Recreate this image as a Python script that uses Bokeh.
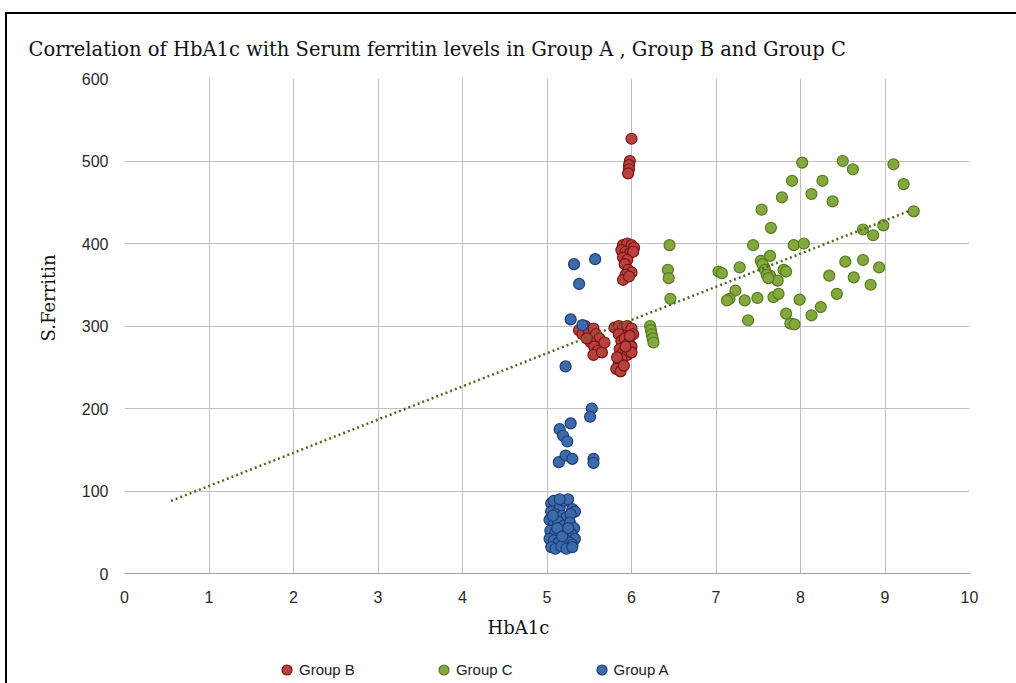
from bokeh.plotting import figure
from bokeh.models import Legend, LegendItem, Title, Range1d, FixedTicker
from bokeh.layouts import column
from bokeh.embed import file_html
from bokeh.resources import INLINE

title_text = "Correlation of HbA1c with Serum ferritin levels in Group A , Group B and Group C"
x_label = "HbA1c"
y_label = "S.Ferritin"
x_ticks = [0, 1, 2, 3, 4, 5, 6, 7, 8, 9, 10]
y_ticks = [0, 100, 200, 300, 400, 500, 600]
series_names = ["Group B", "Group C", "Group A"]

# Group B (red)
groupB_x = [6.00, 5.98, 5.97, 5.97, 5.96,
            5.90, 5.95, 6.00, 6.03, 5.88, 5.93, 5.98, 6.02, 5.90, 5.95, 5.92, 5.96, 6.00, 5.93, 5.90, 5.97,
            5.38, 5.42, 5.45, 5.50, 5.55, 5.58, 5.62, 5.52, 5.56, 5.60, 5.55, 5.65, 5.68, 5.47,
            5.80, 5.85, 5.90, 5.95, 6.00, 6.02, 5.85, 5.88, 5.92, 5.97, 6.00, 5.86, 5.90, 5.95,
            6.00, 5.88, 5.85, 5.82, 5.87, 5.93, 5.98, 5.83, 5.91]
groupB_y = [527, 500, 495, 490, 485,
            398, 400, 398, 395, 392, 390, 388, 390, 383, 380, 375, 368, 365, 362, 356, 360,
            295, 290, 300, 292, 297, 290, 285, 280, 275, 270, 265, 268, 280, 285,
            298, 300, 298, 300, 297, 290, 290, 282, 285, 280, 275, 272, 268, 265,
            268, 260, 255, 248, 245, 275, 288, 262, 252]

# Group C (green)
groupC_x = [6.45, 6.43, 6.44, 6.46, 6.22, 6.23, 6.24, 6.25, 6.26,
            8.02, 8.50, 8.62, 9.10, 7.90, 8.26, 8.13, 7.78, 9.22, 8.38, 7.54, 9.34,
            7.65, 8.74, 8.86, 8.98, 7.44, 7.92, 8.04, 7.53, 7.64, 7.57, 8.53, 8.74,
            8.93, 7.03, 7.07, 7.28, 7.80, 7.83, 7.64, 7.73, 8.34, 8.63, 7.23, 7.16,
            7.13, 7.34, 7.49, 7.68, 7.74, 7.99, 8.43, 8.83, 8.24, 8.13, 7.38, 7.83,
            7.88, 7.93, 7.55, 7.58, 7.60, 7.62]
groupC_y = [398, 368, 358, 333, 300, 295, 290, 285, 280,
            498, 500, 490, 496, 476, 476, 460, 456, 472, 451, 441, 439,
            419, 417, 410, 422, 398, 398, 400, 379, 385, 371, 378, 380,
            371, 366, 364, 371, 368, 366, 361, 355, 361, 359, 343, 333,
            331, 331, 334, 335, 339, 332, 339, 350, 323, 313, 307, 315,
            303, 302, 375, 368, 362, 358]

# Group A (blue)
groupA_x = [5.32, 5.57, 5.38, 5.28, 5.42, 5.22, 5.53, 5.51, 5.28, 5.15, 5.19, 5.24,
            5.14, 5.22, 5.30, 5.55, 5.55,
            5.05, 5.08, 5.15, 5.20, 5.25, 5.30, 5.33, 5.05, 5.10, 5.18, 5.23, 5.28,
            5.03, 5.08, 5.13, 5.20, 5.27, 5.32, 5.04, 5.10, 5.16, 5.22, 5.29, 5.33,
            5.03, 5.08, 5.14, 5.20, 5.26, 5.30, 5.05, 5.10, 5.17, 5.23, 5.30, 5.12,
            5.18, 5.25, 5.07, 5.15]
groupA_y = [375, 381, 351, 308, 301, 251, 200, 190, 182, 175, 167, 160,
            135, 143, 139, 139, 134,
            85, 88, 80, 88, 90, 78, 75, 75, 72, 70, 68, 72,
            65, 60, 63, 58, 62, 55, 52, 50, 48, 52, 48, 42,
            42, 40, 38, 42, 38, 35, 32, 30, 33, 30, 32, 55,
            45, 55, 70, 90]

# linear trendline endpoints (as drawn in the chart)
trend_x = [0.55, 9.30]
trend_y = [88, 440]

serif = "DejaVu Serif"
sans = "Liberation Sans"
grid_col = "#c0c0c0"
series_x = [groupB_x, groupC_x, groupA_x]
series_y = [groupB_y, groupC_y, groupA_y]
styles = [dict(fill_color="#b8413e", line_color="#7a1414"),
          dict(fill_color="#83a83c", line_color="#587a22"),
          dict(fill_color="#3d6aab", line_color="#1c3f74")]

p = figure(width=1009, height=639, output_backend="svg", toolbar_location=None,
           x_range=Range1d(0, 10), y_range=Range1d(0, 600),
           min_border_left=117, min_border_right=47, min_border_top=64, min_border_bottom=80)
p.outline_line_color = None
p.background_fill_color = "white"
p.border_fill_color = "white"

p.add_layout(Title(text=title_text, text_font=serif, text_font_size="19.5px",
                   text_font_style="normal", text_color="#111111", align="left",
                   offset=-96, standoff=36), "above")

p.xaxis.ticker = FixedTicker(ticks=x_ticks)
p.yaxis.ticker = FixedTicker(ticks=y_ticks)
p.xgrid.ticker = FixedTicker(ticks=x_ticks)
p.ygrid.ticker = FixedTicker(ticks=y_ticks)
p.xgrid.grid_line_color = grid_col
p.ygrid.grid_line_color = grid_col
p.xgrid.grid_line_width = 1
p.ygrid.grid_line_width = 1

for ax in (p.xaxis, p.yaxis):
    ax.major_tick_line_color = None
    ax.minor_tick_line_color = None
    ax.major_tick_out = 0
    ax.major_tick_in = 0
    ax.minor_tick_out = 0
    ax.minor_tick_in = 0
    ax.major_label_text_font = sans
    ax.major_label_text_font_size = "16px"
    ax.major_label_text_color = "#2a2a2a"
p.xaxis.axis_line_color = "#a0a0a0"
p.yaxis.axis_line_color = None
p.xaxis.major_label_standoff = 17
p.yaxis.major_label_standoff = 16

# axis titles placed like the original (offset from the frame centre)
p.add_layout(Title(text=x_label, text_font=serif, text_font_size="18px",
                   text_font_style="normal", text_color="#111111", align="left",
                   offset=363, standoff=18), "below")
p.add_layout(Title(text=y_label, text_font=serif, text_font_size="18px",
                   text_font_style="normal", text_color="#111111", align="left",
                   offset=232, standoff=40), "left")

for xs, ys, st in zip(series_x, series_y, styles):
    p.scatter(xs, ys, size=11, line_width=1.2, **st)
p.line(trend_x, trend_y, line_color="#4f6b1e", line_width=2.5, line_dash="2 3")

# legend strip below the chart (same series, out of view there; only the legend shows)
lf = figure(width=1009, height=30, output_backend="svg", toolbar_location=None,
            x_range=Range1d(0, 1), y_range=Range1d(0, 1),
            x_axis_location=None, y_axis_location=None,
            min_border_left=0, min_border_right=0, min_border_top=0, min_border_bottom=0)
lf.grid.visible = False
lf.outline_line_color = None
items = []
for name, xs, ys, st in zip(series_names, series_x, series_y, styles):
    r = lf.scatter(xs, ys, size=11, line_width=1.2, **st)
    items.append(LegendItem(label=name, renderers=[r]))
legend = Legend(items=items, orientation="horizontal", location=(150, 1),
                label_text_font=sans, label_text_font_size="15px",
                label_text_color="#222222", spacing=76, glyph_width=25, glyph_height=25,
                label_standoff=0, padding=0, margin=0, border_line_color=None,
                background_fill_alpha=0)
lf.add_layout(legend, "center")

page = column(p, lf, spacing=0,
              styles={"border-top": "2px solid black", "border-left": "2px solid black",
                      "margin-left": "5px", "margin-top": "12px"})

open("out.html", "w").write(file_html(page, INLINE))
